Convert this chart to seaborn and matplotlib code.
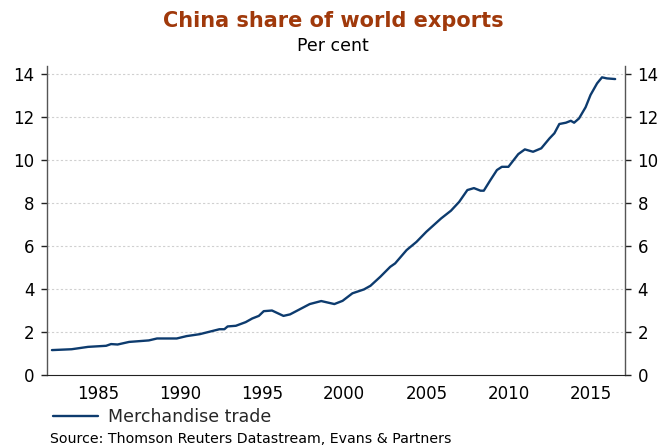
import numpy as np
import pandas as pd
import matplotlib.pyplot as plt
import seaborn as sns

# values (year, per cent of world exports)
years = [1982.2, 1983.4, 1984.4, 1985.5, 1985.8, 1986.2, 1986.9, 1988.1, 1988.6,
         1989.8, 1990.4, 1991.2, 1992.4, 1992.7, 1992.9, 1993.4, 1994.0, 1994.4,
         1994.8, 1995.1, 1995.6, 1996.3, 1996.7, 1997.3, 1997.9, 1998.6, 1999.4,
         1999.9, 2000.5, 2001.2, 2001.6, 2002.2, 2002.8, 2003.1, 2003.8, 2004.4,
         2005.0, 2005.9, 2006.5, 2007.0, 2007.5, 2007.9, 2008.3, 2008.5, 2008.9,
         2009.3, 2009.6, 2010.0, 2010.6, 2011.0, 2011.5, 2012.0, 2012.5, 2012.8,
         2013.1, 2013.5, 2013.8, 2014.0, 2014.3, 2014.7, 2015.0, 2015.4, 2015.7,
         2016.0, 2016.5]
share = [1.18, 1.22, 1.33, 1.38, 1.46, 1.44, 1.56, 1.63, 1.72,
         1.72, 1.83, 1.92, 2.15, 2.15, 2.28, 2.31, 2.48, 2.65,
         2.77, 2.99, 3.02, 2.77, 2.84, 3.08, 3.32, 3.46, 3.32,
         3.47, 3.82, 4.0, 4.17, 4.59, 5.05, 5.21, 5.83, 6.21,
         6.68, 7.3, 7.66, 8.07, 8.62, 8.71, 8.59, 8.59, 9.08,
         9.55, 9.7, 9.7, 10.29, 10.51, 10.4, 10.56, 11.02, 11.26,
         11.69, 11.75, 11.84, 11.75, 11.95, 12.47, 13.04, 13.58, 13.86,
         13.81, 13.78]
yticks = [0, 2, 4, 6, 8, 10, 12, 14]
xticks = [1985, 1990, 1995, 2000, 2005, 2010, 2015]

df = pd.DataFrame({'year': years, 'share': share})

sns.set_style('white')
plt.rcParams['font.family'] = ['DejaVu Sans']

fig = plt.figure(figsize=(6.63, 4.47), dpi=100)
ax = fig.add_axes([0.0709, 0.160, 0.8718, 0.693])

sns.lineplot(data=df, x='year', y='share', ax=ax, color='#0d3b6e', linewidth=1.7,
             label='Merchandise trade')

ax.set_xlim(1981.9, 2017.1)
ax.set_ylim(0, 14.4)
ax.set_xticks(xticks)
ax.set_yticks(yticks)
ax.set_xlabel('')
ax.set_ylabel('')
for y in yticks[1:]:
    ax.axhline(y, color='#d0d0d0', lw=0.8, ls=(0, (2, 2)), zorder=0)

ax.spines['top'].set_visible(False)
for s in ['left', 'right']:
    ax.spines[s].set_color('#555555')
    ax.spines[s].set_linewidth(1.0)
ax.spines['bottom'].set_color('#222222')
ax.tick_params(axis='both', direction='out', length=4, width=1, labelsize=12,
               colors='#222222', labelcolor='black')
ax.tick_params(axis='y', right=True, labelright=True, left=True, pad=5)
ax.tick_params(axis='x', pad=3)

fig.text(0.502, 0.953, 'China share of world exports', ha='center', va='center',
         fontsize=15, fontweight='bold', color='#a0390b')
fig.text(0.502, 0.898, 'Per cent', ha='center', va='center', fontsize=12.5, color='black')

ax.legend(loc='center left', bbox_to_anchor=(0.01, -0.133), frameon=False,
          fontsize=12.5, handlelength=2.6, handletextpad=0.6, borderaxespad=0,
          borderpad=0)
fig.text(0.0755, 0.018, 'Source: Thomson Reuters Datastream, Evans & Partners',
         ha='left', va='center', fontsize=10.2, color='black')

fig.savefig('out.png', dpi=100)
